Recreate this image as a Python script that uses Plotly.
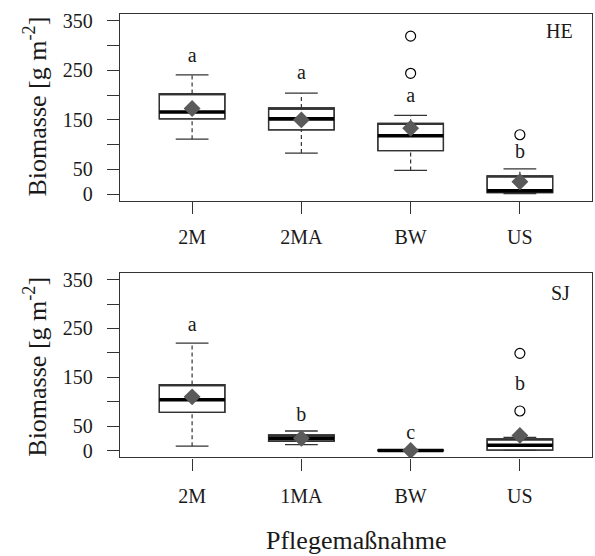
import plotly.graph_objects as go

# ---------------- data ----------------
cats_he = ["2M", "2MA", "BW", "US"]
he_q1 = [152, 130, 88, 3]
he_med = [166, 152, 118, 7]
he_q3 = [203, 174, 143, 37]
he_lo = [111, 83, 48, 1]
he_hi = [241, 204, 159, 51]
he_mean = [173, 150, 133, 25]
he_out_cat = ["BW", "BW", "US"]
he_out_val = [319, 244, 120]
he_letters = ["a", "a", "a", "b"]
he_letter_y = [276, 242, 196, 84]

cats_sj = ["2M", "1MA", "BW", "US"]
sj_q1 = [78, 19, 0, 1]
sj_med = [104, 25, 0, 11]
sj_q3 = [135, 32, 1, 24]
sj_lo = [9, 12, 0, 0.5]
sj_hi = [220, 40, 0, 27]
sj_mean = [110, 25, 0, 31]
sj_out_cat = ["US", "US"]
sj_out_val = [199, 81]
sj_letters = ["a", "b", "c", "b"]
sj_letter_y = [255, 70, 33, 135]

y_tickvals = [0, 50, 150, 250, 350]
y_minor_tickvals = [100, 200, 300]

FONT = "Liberation Serif, Times New Roman, serif"
LC = "#333333"
TC = "#1a1a1a"
BOXW = 0.6
CAPW = 0.3

fig = go.Figure()


def add_panel(cats, q1, med, q3, lo, hi, mean, out_cat, out_val, letters, letter_y, xa, ya):
    pos = list(range(1, len(cats) + 1))
    idx = {c: i + 1 for i, c in enumerate(cats)}
    # boxes
    fig.add_trace(go.Box(
        x=pos, q1=q1, median=q3, q3=q3, lowerfence=q1, upperfence=q3,
        width=BOXW, whiskerwidth=0, fillcolor="white",
        line=dict(color=LC, width=1.3), xaxis=xa, yaxis=ya,
        hoverinfo="skip", boxpoints=False))
    # whiskers (dashed)
    wx, wy = [], []
    for p, a, b, c, d in zip(pos, lo, q1, q3, hi):
        wx += [p, p, None, p, p, None]
        wy += [a, b, None, c, d, None]
    fig.add_trace(go.Scatter(x=wx, y=wy, mode="lines", xaxis=xa, yaxis=ya,
                             line=dict(color=LC, width=1.2, dash="4px,3px"), hoverinfo="skip"))
    # caps
    cx, cy = [], []
    for p, a, d in zip(pos, lo, hi):
        cx += [p - CAPW / 2, p + CAPW / 2, None, p - CAPW / 2, p + CAPW / 2, None]
        cy += [a, a, None, d, d, None]
    fig.add_trace(go.Scatter(x=cx, y=cy, mode="lines", xaxis=xa, yaxis=ya,
                             line=dict(color=LC, width=1.3), hoverinfo="skip"))
    # redraw box outline over whiskers
    fig.add_trace(go.Box(
        x=pos, q1=q1, median=q3, q3=q3, lowerfence=q1, upperfence=q3,
        width=BOXW, whiskerwidth=0, fillcolor="rgba(0,0,0,0)",
        line=dict(color=LC, width=1.3), xaxis=xa, yaxis=ya,
        hoverinfo="skip", boxpoints=False))
    # medians (thick)
    mx, my = [], []
    for p, m in zip(pos, med):
        mx += [p - BOXW / 2, p + BOXW / 2, None]
        my += [m, m, None]
    fig.add_trace(go.Scatter(x=mx, y=my, mode="lines", xaxis=xa, yaxis=ya,
                             line=dict(color="black", width=3.6), hoverinfo="skip"))
    # means
    fig.add_trace(go.Scatter(x=pos, y=mean, mode="markers", xaxis=xa, yaxis=ya,
                             marker=dict(symbol="diamond", size=13, color="#5a5a5a"),
                             hoverinfo="skip"))
    # outliers
    fig.add_trace(go.Scatter(x=[idx[c] for c in out_cat], y=out_val, mode="markers",
                             xaxis=xa, yaxis=ya,
                             marker=dict(symbol="circle-open", size=10, color="black",
                                         line=dict(width=1.2)),
                             hoverinfo="skip"))
    # letters
    fig.add_trace(go.Scatter(x=pos, y=letter_y, mode="text", text=letters,
                             textposition="middle center", xaxis=xa, yaxis=ya,
                             textfont=dict(family=FONT, size=20, color=TC),
                             hoverinfo="skip"))


add_panel(cats_he, he_q1, he_med, he_q3, he_lo, he_hi, he_mean, he_out_cat, he_out_val,
          he_letters, he_letter_y, "x", "y")
add_panel(cats_sj, sj_q1, sj_med, sj_q3, sj_lo, sj_hi, sj_mean, sj_out_cat, sj_out_val,
          sj_letters, sj_letter_y, "x2", "y2")

W, H = 595, 556
xdom = [120 / W, 592 / W]
ydom_top = [1 - 200 / H, 1 - 10 / H]
ydom_bot = [1 - 460 / H, 1 - 272.7 / H]

axis_common = dict(showline=True, mirror=True, linecolor=LC, linewidth=1.3,
                   ticks="outside", ticklen=12, tickwidth=1.2, tickcolor=LC,
                   showgrid=False, zeroline=False,
                   tickfont=dict(family=FONT, size=20, color=TC))
y_minor = dict(tickvals=y_minor_tickvals, ticks="outside", ticklen=12, tickwidth=1.2,
               tickcolor=LC, showgrid=False)

fig.update_layout(
    width=W, height=H, margin=dict(l=0, r=0, t=0, b=0),
    paper_bgcolor="white", plot_bgcolor="white", showlegend=False,
    xaxis=dict(domain=xdom, range=[0.34, 4.66], tickvals=[1, 2, 3, 4], ticktext=cats_he,
               anchor="y", ticklabelstandoff=6, **axis_common),
    yaxis=dict(domain=ydom_top, range=[-14, 364], tickvals=y_tickvals,
               anchor="x", ticklabelstandoff=10, minor=y_minor, **axis_common),
    xaxis2=dict(domain=xdom, range=[0.34, 4.66], tickvals=[1, 2, 3, 4], ticktext=cats_sj,
                anchor="y2", ticklabelstandoff=8, **axis_common),
    yaxis2=dict(domain=ydom_bot, range=[-14, 364], tickvals=y_tickvals,
                anchor="x2", ticklabelstandoff=10, minor=y_minor, **axis_common),
)

ann_font = dict(family=FONT, size=26, color=TC)
fig.add_annotation(text="Biomasse [g m<sup>-2</sup>]", xref="paper", yref="paper",
                   x=36 / W, y=1 - 104 / H, textangle=-90, showarrow=False,
                   xanchor="center", yanchor="middle", font=ann_font)
fig.add_annotation(text="Biomasse [g m<sup>-2</sup>]", xref="paper", yref="paper",
                   x=36 / W, y=1 - 368 / H, textangle=-90, showarrow=False,
                   xanchor="center", yanchor="middle", font=ann_font)
fig.add_annotation(text="Pflegemaßnahme", xref="paper", yref="paper",
                   x=356 / W, y=1 - 544 / H, showarrow=False,
                   xanchor="center", yanchor="middle", font=ann_font)
fig.add_annotation(text="HE", xref="x", yref="y", x=4.50, y=329, showarrow=False,
                   xanchor="right", yanchor="middle",
                   font=dict(family=FONT, size=20, color=TC))
fig.add_annotation(text="SJ", xref="x2", yref="y2", x=4.48, y=322, showarrow=False,
                   xanchor="right", yanchor="middle",
                   font=dict(family=FONT, size=20, color=TC))

fig.write_html("out.html", config={"displayModeBar": False},
               post_script="document.body.style.margin='0';document.body.style.overflow='hidden';")
